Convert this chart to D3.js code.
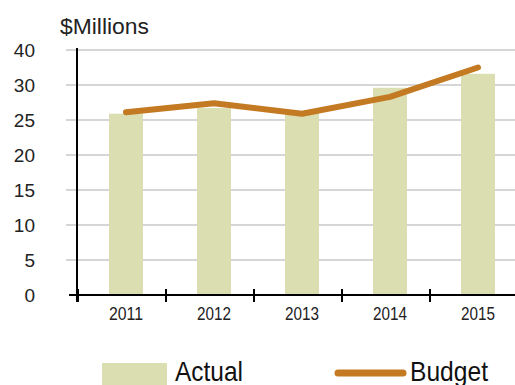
<!DOCTYPE html>
<html>
<head>
<meta charset="utf-8">
<script src="https://cdn.jsdelivr.net/npm/d3@7"></script>
<style>
  body { margin: 0; background: #fff; }
  svg { display: block; }
  text { font-family: "Liberation Sans", Arial, sans-serif; }
</style>
</head>
<body>
<div id="chart"></div>
<script>
// data
var years = ["2011", "2012", "2013", "2014", "2015"];
var actual = [25.9, 26.7, 26.0, 29.6, 31.6];
var budget = [26.1, 27.4, 25.9, 28.3, 32.5];
var yTicks = [0, 5, 10, 15, 20, 25, 30, 35];
var yTickLabels = ["0", "5", "10", "15", "20", "25", "30", "40"];

var width = 515, height = 385;
var svg = d3.select("#chart").append("svg")
    .attr("width", width)
    .attr("height", height);

var x = d3.scaleBand().domain(years).range([79, 519]).paddingInner(0);
var y = d3.scaleLinear().domain([0, 35]).range([295, 50]);

// squeeze text like the condensed face of the original
function narrow(sel, w) {
    sel.attr("textLength", w).attr("lengthAdjust", "spacingAndGlyphs");
}

// grid
svg.append("g")
    .selectAll("line")
    .data(yTicks.slice(1))
    .join("line")
    .attr("x1", 66).attr("x2", width)
    .attr("y1", d => y(d)).attr("y2", d => y(d))
    .attr("stroke", "#c8c8c8")
    .attr("stroke-width", 1.5);

// y labels
svg.append("g")
    .selectAll("text")
    .data(yTicks)
    .join("text")
    .attr("x", 35)
    .attr("y", d => y(d))
    .attr("dy", "0.36em")
    .attr("text-anchor", "end")
    .style("font-size", "19px")
    .attr("fill", "#222")
    .text((d, i) => yTickLabels[i]);

// bars
var barW = 34;
svg.append("g")
    .selectAll("rect")
    .data(actual)
    .join("rect")
    .attr("x", (d, i) => x(years[i]) + x.bandwidth() / 2 - barW / 2 + 3)
    .attr("y", d => y(d))
    .attr("width", barW)
    .attr("height", d => y(0) - y(d))
    .attr("fill", "#dadeb1");

// axes
svg.append("line")
    .attr("x1", 77).attr("x2", 77)
    .attr("y1", 48).attr("y2", 302)
    .attr("stroke", "#000").attr("stroke-width", 2);

svg.append("line")
    .attr("x1", 69).attr("x2", width)
    .attr("y1", y(0)).attr("y2", y(0))
    .attr("stroke", "#000").attr("stroke-width", 2);

svg.append("g")
    .selectAll("line")
    .data(years)
    .join("line")
    .attr("x1", d => x(d) - 1).attr("x2", d => x(d) - 1)
    .attr("y1", y(0) - 6).attr("y2", y(0) + 7)
    .attr("stroke", "#000").attr("stroke-width", 2);

svg.append("g")
    .selectAll("text")
    .data(years)
    .join("text")
    .attr("x", d => x(d) + x.bandwidth() / 2 + 3 - 17)
    .attr("y", 320)
    .style("font-size", "19px")
    .attr("fill", "#222")
    .text(d => d)
    .call(narrow, 34);

// budget line
var line = d3.line()
    .x((d, i) => x(years[i]) + x.bandwidth() / 2 + 3)
    .y(d => y(d));

svg.append("path")
    .datum(budget)
    .attr("d", line)
    .attr("fill", "none")
    .attr("stroke", "#c47a22")
    .attr("stroke-width", 6)
    .attr("stroke-linecap", "round")
    .attr("stroke-linejoin", "round");

// title
svg.append("text")
    .attr("x", 60).attr("y", 34)
    .style("font-size", "22px")
    .attr("fill", "#222")
    .text("$Millions")
    .call(narrow, 89);

// legend
var lg = svg.append("g");
lg.append("rect")
    .attr("x", 102).attr("y", 363)
    .attr("width", 65).attr("height", 22)
    .attr("fill", "#dadeb1");
lg.append("text")
    .attr("x", 175).attr("y", 381)
    .style("font-size", "28px")
    .attr("fill", "#111")
    .text("Actual")
    .call(narrow, 68);
lg.append("line")
    .attr("x1", 338).attr("x2", 403)
    .attr("y1", 373).attr("y2", 373)
    .attr("stroke", "#c47a22")
    .attr("stroke-width", 7)
    .attr("stroke-linecap", "round");
lg.append("text")
    .attr("x", 410).attr("y", 381)
    .style("font-size", "28px")
    .attr("fill", "#111")
    .text("Budget")
    .call(narrow, 78);
</script>
</body>
</html>
